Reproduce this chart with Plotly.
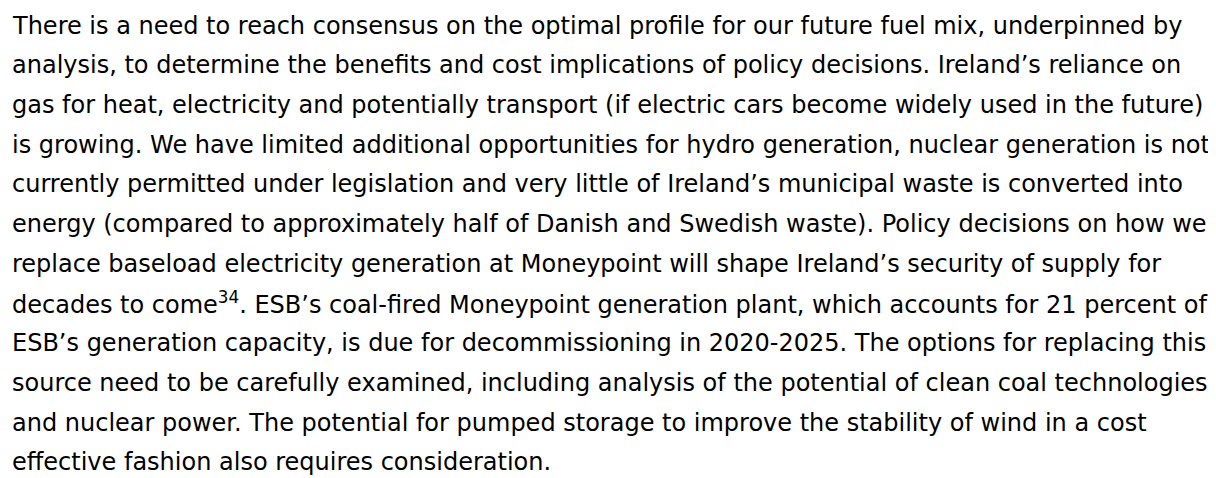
import plotly.graph_objects as go

lines = [
    "There is a need to reach consensus on the optimal profile for our future fuel mix, underpinned by",
    "analysis, to determine the benefits and cost implications of policy decisions. Ireland’s reliance on",
    "gas for heat, electricity and potentially transport (if electric cars become widely used in the future)",
    "is growing. We have limited additional opportunities for hydro generation, nuclear generation is not",
    "currently permitted under legislation and very little of Ireland’s municipal waste is converted into",
    "energy (compared to approximately half of Danish and Swedish waste). Policy decisions on how we",
    "replace baseload electricity generation at Moneypoint will shape Ireland’s security of supply for",
    "decades to come<sup>34</sup>. ESB’s coal-fired Moneypoint generation plant, which accounts for 21 percent of",
    "ESB’s generation capacity, is due for decommissioning in 2020-2025. The options for replacing this",
    "source need to be carefully examined, including analysis of the potential of clean coal technologies",
    "and nuclear power. The potential for pumped storage to improve the stability of wind in a cost",
    "effective fashion also requires consideration.",
]

W, H = 1216, 478
left_px = 2
first_center = 17.5
spacing = 39.7

fig = go.Figure()
annotations = []
for i, t in enumerate(lines):
    cy = first_center + i * spacing
    annotations.append(dict(
        text=t, xref="paper", yref="paper",
        x=left_px / W, y=1 - cy / H,
        xanchor="left", yanchor="middle", showarrow=False, align="left",
        font=dict(family="DejaVu Sans", size=24, color="#000000"),
    ))

fig.update_layout(
    width=W, height=H,
    margin=dict(l=0, r=0, t=0, b=0),
    paper_bgcolor="white", plot_bgcolor="white",
    xaxis=dict(visible=False, range=[0, 1]),
    yaxis=dict(visible=False, range=[0, 1]),
    annotations=annotations,
    showlegend=False,
)
fig.write_html("out.html")
